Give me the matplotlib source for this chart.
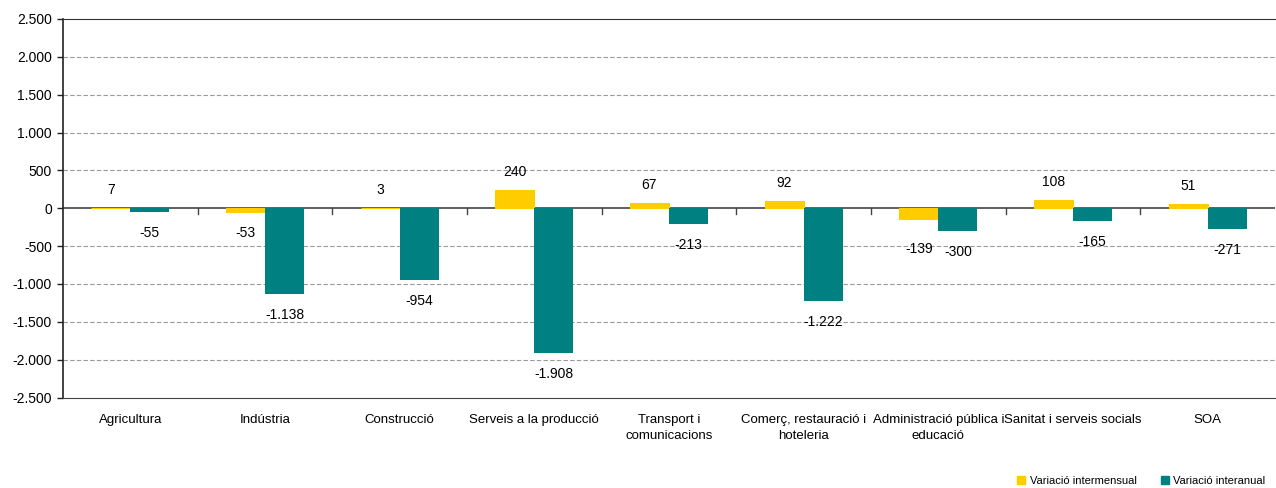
import matplotlib
matplotlib.use("Agg")
import matplotlib.pyplot as plt
import numpy as np
from matplotlib.patches import Patch

categories = ["Agricultura", "Indústria", "Construcció", "Serveis a la producció",
              "Transport i\ncomunicacions", "Comerç, restauració i\nhoteleria",
              "Administració pública i\neducació", "Sanitat i serveis socials", "SOA"]
intermensual = [7, -53, 3, 240, 67, 92, -139, 108, 51]
interanual = [-55, -1138, -954, -1908, -213, -1222, -300, -165, -271]
series_names = ["Variació intermensual", "Variació interanual"]
yticks = list(range(-2500, 2501, 500))

c_yellow = "#FFCC00"
c_teal = "#008080"

plt.rcParams['font.family'] = ['Liberation Sans', 'DejaVu Sans']

fig = plt.figure(figsize=(12.76, 4.88), dpi=100)
ax = fig.add_axes([63/1276, (488-397.5)/488, (1275-63)/1276, (397.5-19)/488])

x = np.arange(len(categories))
w = 0.29
b1 = ax.bar(x - w/2, intermensual, w, color=c_yellow, zorder=3,
            edgecolor=c_yellow, linewidth=0.8)
b2 = ax.bar(x + w/2, interanual, w, color=c_teal, zorder=3)

ax.set_xlim(-0.5, len(categories) - 0.5)
ax.set_ylim(-2500, 2500)
ax.set_yticks(yticks)
ax.set_yticklabels([f"{v:,}".replace(",", ".") for v in yticks], fontsize=10)

for v in yticks:
    if v in (-2500, 2500):
        continue
    if v == 0:
        ax.axhline(0, color="#444444", lw=1.2, zorder=2)
    else:
        ax.axhline(v, color="#9a9a9a", lw=0.8, ls=(0, (4, 2)), zorder=1)

ax.spines['right'].set_visible(False)
ax.spines['top'].set_color("#333333")
ax.spines['bottom'].set_color("#444444")
ax.spines['left'].set_color("#222222")
ax.spines['left'].set_linewidth(1.2)
ax.tick_params(axis='y', length=4, width=1, color="#222222", pad=4)
ax.set_xticks(x)
ax.set_xticklabels(categories, fontsize=9.5, linespacing=1.4)
ax.tick_params(axis='x', length=0, pad=12)

# category boundary ticks on zero line
for bnd in np.arange(0.5, len(categories) - 0.5, 1.0):
    ax.plot([bnd, bnd], [0, -70], color="#444444", lw=1, zorder=4)

def fmt(v):
    return f"{v:,}".replace(",", ".")

offsets = {("a", 6): -22}
for i, (bars, vals, key) in enumerate([(b1, intermensual, "a"), (b2, interanual, "b")]):
    for j, (rect, v) in enumerate(zip(bars, vals)):
        cx = rect.get_x() + rect.get_width() / 2
        if v >= 0:
            ax.annotate(fmt(v), (cx, v), xytext=(0, 13), textcoords="offset points",
                        ha="center", va="center", fontsize=10)
        else:
            off = offsets.get((key, j), -15)
            ax.annotate(fmt(v), (cx, v), xytext=(0, off), textcoords="offset points",
                        ha="center", va="center", fontsize=10)

handles = [Patch(color=c_yellow), Patch(color=c_teal)]
fig.legend(handles, series_names, loc="lower right", bbox_to_anchor=(0.995, -0.005),
           ncol=2, frameon=False, fontsize=8, handlelength=0.7, handleheight=0.7,
           handletextpad=0.4, columnspacing=2.2, borderaxespad=0.0)

fig.savefig("out.png", dpi=100)
